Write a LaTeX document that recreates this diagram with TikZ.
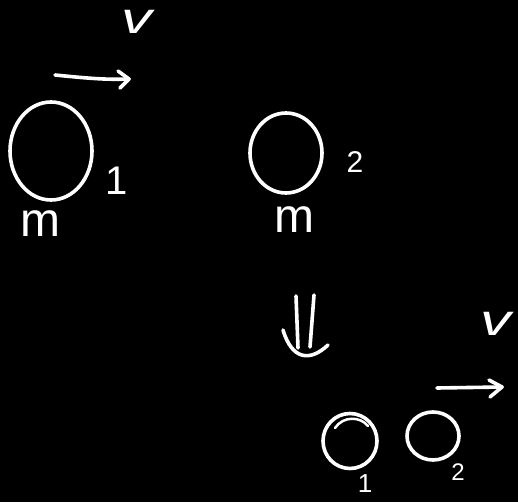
\documentclass[tikz,border=0pt]{standalone}
\usepackage{fontspec}
\setmainfont{Liberation Sans}
\usetikzlibrary{shapes.geometric}
\begin{document}
\begin{tikzpicture}[x=1pt,y=-1pt,
  stroke/.style={draw=white,line width=3.6pt,line cap=round,line join=round},
  ball/.style={ellipse,draw=white,line width=3.6pt,inner sep=0pt,minimum width=#1},
  lbl/.style={text=white,inner sep=0pt,font=\fontsize{40}{40}\selectfont},
  vlbl/.style={text=white,inner sep=0pt,xscale=1.4,font=\fontsize{44}{44}\selectfont\itshape}]
\fill[black] (0,0) rectangle (518,502);
\useasboundingbox (0,0) rectangle (518,502);
% top row
\node[ball=82pt,minimum height=98pt] (c1) at (51,151) {};
\node[ball=72pt,minimum height=80pt] (c2) at (286,153) {};
\node[lbl] (one) at (117,181) {1};
\node[lbl,font=\fontsize{30}{30}\selectfont] (two) at (355,162) {2};
\node[lbl,font=\fontsize{48}{48}\selectfont] (m1) at (40,224) {m};
\node[lbl,font=\fontsize{48}{48}\selectfont] (m2) at (294,220) {m};
\node[vlbl] (v1) at (137,22) {v};
\coordinate (a1s) at (55,75);
\coordinate (a1e) at (129,79);
\draw[stroke] (a1s) .. controls (85,78) and (105,80) .. (a1e);
\draw[stroke] (118,71) -- (a1e) -- (120,88);
% implies arrow
\coordinate (d1s) at (296,296);
\coordinate (d1e) at (298,348);
\coordinate (d2s) at (314,295);
\coordinate (d2e) at (310,347);
\draw[stroke] (d1s) -- (d1e);
\draw[stroke] (d2s) -- (d2e);
\draw[stroke] (283,330) .. controls (292,360) and (310,362) .. (328,345);
% bottom row
\node[ball=54pt,minimum height=55pt] (c3) at (350,441) {};
\draw[stroke,line width=2.5pt] (335,428) .. controls (343,416) and (360,416) .. (368,426);
\node[ball=52pt,minimum height=48pt] (c4) at (433,436) {};
\node[lbl,font=\fontsize{26}{26}\selectfont] (one2) at (365,484) {1};
\node[lbl,font=\fontsize{24}{24}\selectfont] (two2) at (458,472) {2};
\node[vlbl] (v2) at (496,324) {v};
\coordinate (a2s) at (437,388);
\coordinate (a2e) at (502,387);
\draw[stroke] (a2s) -- (a2e);
\draw[stroke] (489,380) -- (a2e) -- (490,397);
\end{tikzpicture}
\end{document}
